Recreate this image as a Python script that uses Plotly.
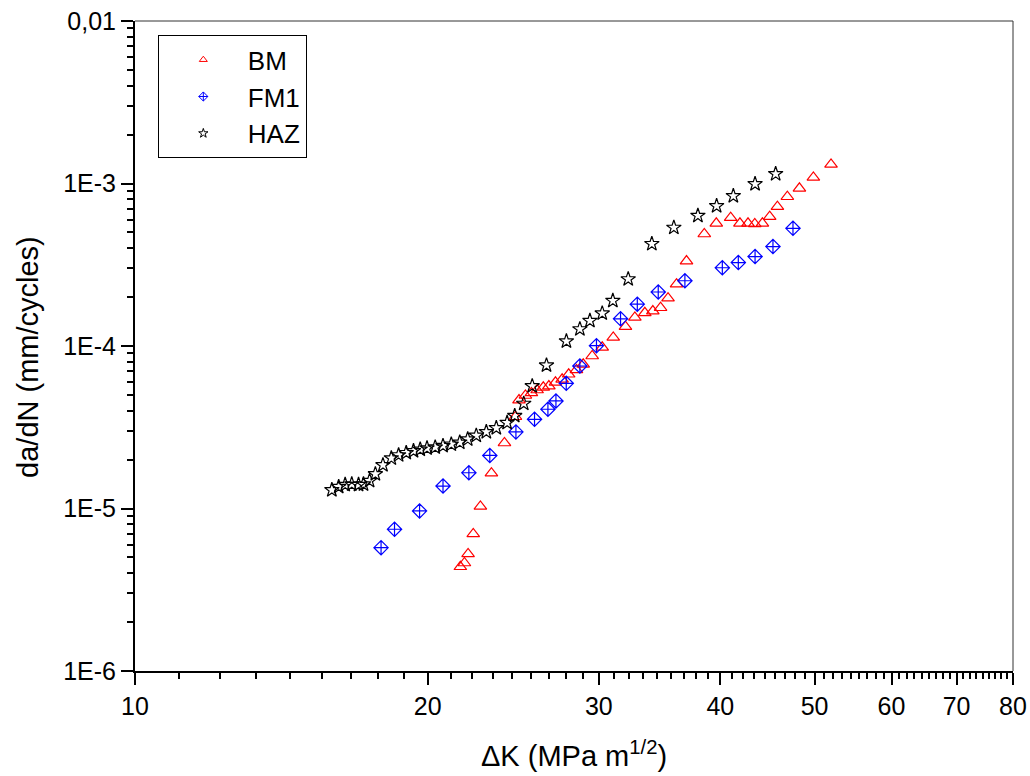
import plotly.graph_objects as go

# Fatigue crack growth rate data: stress intensity range (MPa m^1/2) vs da/dN (mm/cycle)
bm_dk = [21.61, 21.82, 22.01, 22.28, 22.66, 23.26, 23.99, 24.62, 24.83, 25.21,
         25.57, 25.92, 26.30, 26.65, 27.07, 27.50, 27.93, 28.45, 28.91, 29.53,
         30.24, 31.04, 31.95, 32.67, 33.45, 34.09, 34.72, 35.34, 36.06, 36.92,
         38.51, 39.62, 40.99, 41.90, 42.71, 43.40, 44.19, 44.96, 45.79, 46.88,
         48.24, 49.86, 51.99]
bm_dadn = [4.38e-6, 4.62e-6, 5.25e-6, 6.97e-6, 1.03e-5, 1.65e-5, 2.53e-5, 3.67e-5, 4.65e-5, 4.96e-5,
           5.14e-5, 5.36e-5, 5.57e-5, 5.67e-5, 5.98e-5, 6.24e-5, 6.70e-5, 7.12e-5, 7.71e-5, 8.68e-5,
           9.82e-5, 1.13e-4, 1.315e-4, 1.50e-4, 1.60e-4, 1.64e-4, 1.72e-4, 1.97e-4, 2.40e-4, 3.33e-4,
           4.89e-4, 5.69e-4, 6.16e-4, 5.69e-4, 5.69e-4, 5.64e-4, 5.69e-4, 6.25e-4, 7.20e-4, 8.29e-4,
           9.34e-4, 1.09e-3, 1.31e-3]

fm1_dk = [17.91, 18.49, 19.62, 20.74, 22.05, 23.17, 24.65, 25.76, 26.59, 27.10,
          27.77, 28.68, 29.83, 31.58, 32.86, 34.53, 36.78, 40.19, 41.74, 43.43,
          45.31, 47.51]
fm1_dadn = [5.74e-6, 7.45e-6, 9.66e-6, 1.375e-5, 1.66e-5, 2.12e-5, 2.96e-5, 3.54e-5, 4.08e-5, 4.59e-5,
            5.89e-5, 7.53e-5, 1.005e-4, 1.47e-4, 1.81e-4, 2.15e-4, 2.52e-4, 3.03e-4, 3.26e-4, 3.55e-4,
            4.09e-4, 5.30e-4]

haz_dk = [15.94, 16.20, 16.45, 16.71, 16.98, 17.18, 17.43, 17.67, 17.99, 18.35,
          18.67, 19.01, 19.34, 19.65, 19.97, 20.36, 20.74, 21.15, 21.58, 21.99,
          22.44, 22.98, 23.53, 24.14, 24.58, 25.11, 25.62, 26.50, 27.78, 28.68,
          29.37, 30.24, 31.01, 32.16, 34.01, 35.83, 37.93, 39.65, 41.25, 43.43,
          45.60]
haz_dadn = [1.30e-5, 1.36e-5, 1.40e-5, 1.41e-5, 1.40e-5, 1.41e-5, 1.48e-5, 1.63e-5, 1.85e-5, 2.04e-5,
            2.13e-5, 2.20e-5, 2.26e-5, 2.31e-5, 2.35e-5, 2.38e-5, 2.43e-5, 2.48e-5, 2.55e-5, 2.67e-5,
            2.81e-5, 2.96e-5, 3.13e-5, 3.37e-5, 3.72e-5, 4.42e-5, 5.67e-5, 7.61e-5, 1.07e-4, 1.27e-4,
            1.43e-4, 1.59e-4, 1.90e-4, 2.58e-4, 4.25e-4, 5.35e-4, 6.34e-4, 7.27e-4, 8.38e-4, 9.93e-4,
            1.145e-3]

x_ticks = [10, 20, 30, 40, 50, 60, 70, 80]
y_ticks = [1e-6, 1e-5, 1e-4, 1e-3, 1e-2]
y_ticktext = ["1E-6", "1E-5", "1E-4", "1E-3", "0,01"]

# minor ticks: eight subdivisions between labelled x ticks, 2..9 within y decades
x_minor = [a + (b - a) * k / 9 for a, b in zip(x_ticks[:-1], x_ticks[1:]) for k in range(1, 9)]
y_minor = [m * d for d in [1e-6, 1e-5, 1e-4, 1e-3] for m in range(2, 10)]

FONT = "Arial, 'Liberation Sans', sans-serif"

fig = go.Figure()

series = [
    ("BM", bm_dk, bm_dadn, "triangle-up-open", "#ff0000"),
    ("FM1", fm1_dk, fm1_dadn, "diamond-cross-open", "#0000ff"),
    ("HAZ", haz_dk, haz_dadn, "star-open", "#000000"),
]
for name, xs, ys, sym, col in series:
    fig.add_trace(go.Scatter(
        x=xs, y=ys, mode="markers", name=name, showlegend=False,
        marker=dict(symbol=sym, size=11, color=col, line=dict(color=col, width=1.2)),
    ))
# legend entries with smaller keys
for name, xs, ys, sym, col in series:
    fig.add_trace(go.Scatter(
        x=[None], y=[None], mode="markers", name=name,
        marker=dict(symbol=sym, size=7, color=col, line=dict(color=col, width=1)),
    ))

axis_common = dict(
    showgrid=False, zeroline=False, showline=True, linecolor="black", linewidth=2,
    ticks="outside", ticklen=12, tickwidth=2, tickcolor="black", automargin=False,
    tickfont=dict(family=FONT, size=25, color="black"),
)

fig.update_xaxes(
    type="log", range=[1, 1.90309], tickvals=x_ticks, ticktext=[str(v) for v in x_ticks],
    minor=dict(tickvals=x_minor, ticks="outside", ticklen=6, tickwidth=1.5, tickcolor="black", showgrid=False),
    **axis_common,
)
fig.update_yaxes(
    type="log", range=[-6, -2], tickvals=y_ticks, ticktext=y_ticktext,
    minor=dict(tickvals=y_minor, ticks="outside", ticklen=6, tickwidth=1.5, tickcolor="black", showgrid=False),
    **axis_common,
)

# thin frame on top and right
fig.add_shape(type="line", xref="paper", yref="paper", x0=0, x1=1, y0=1, y1=1,
              line=dict(color="#333333", width=1))
fig.add_shape(type="line", xref="paper", yref="paper", x0=1, x1=1, y0=0, y1=1,
              line=dict(color="#333333", width=1))

fig.add_annotation(
    text="\u0394K (MPa m<sup>1/2</sup>)", xref="paper", yref="paper",
    x=0.5, y=-0.128, xanchor="center", yanchor="middle", showarrow=False,
    font=dict(family=FONT, size=29, color="black"),
)
fig.add_annotation(
    text="da/dN (mm/cycles)", xref="paper", yref="paper", textangle=-90,
    x=-0.122, y=0.483, xanchor="center", yanchor="middle", showarrow=False,
    font=dict(family=FONT, size=29, color="black"),
)

fig.update_layout(
    width=1030, height=776,
    margin=dict(l=135, r=17, t=21, b=105),
    paper_bgcolor="white", plot_bgcolor="white",
    legend=dict(
        x=0.026, y=0.978, xanchor="left", yanchor="top",
        bordercolor="black", borderwidth=1, bgcolor="white",
        font=dict(family=FONT, size=26, color="black"),
        itemwidth=79, tracegroupgap=0,
    ),
)

fig.write_html("out.html")
